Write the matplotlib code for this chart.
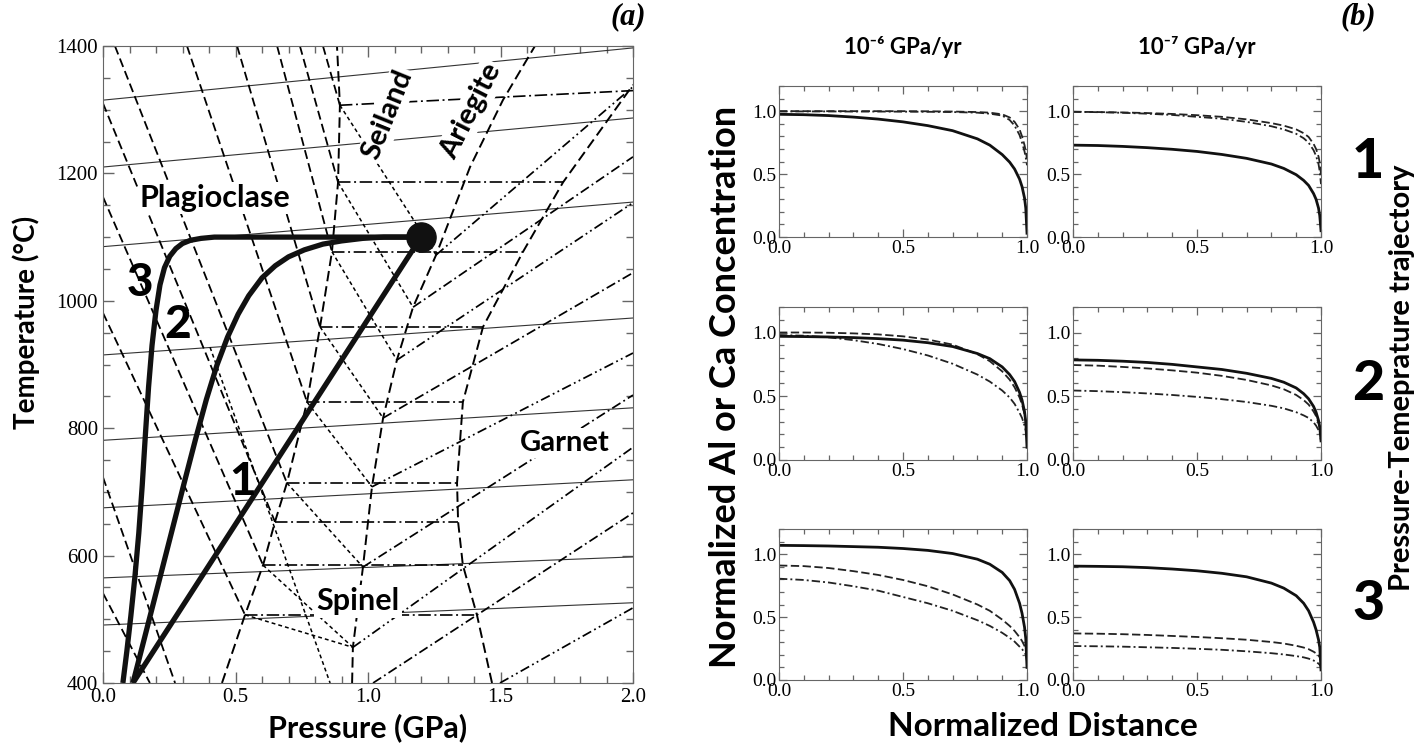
import matplotlib
matplotlib.use('Agg')
import matplotlib.pyplot as plt
from matplotlib.ticker import MultipleLocator, FormatStrFormatter

plt.rcParams['lines.scale_dashes'] = False
SANS = ['Lato', 'DejaVu Sans']
SERIF = 'Liberation Serif'

# ---------------- panel (a): P-T grid ----------------
# thin solid lines, T at P=0 and at P=2
solid_T0 = [1315, 1210, 1085, 915, 781, 675, 565, 491]
solid_T1 = [1397, 1287, 1155, 973, 832, 719, 598, 526]

# field boundaries
b1_P = [0.449, 0.536, 0.604, 0.649, 0.694, 0.770, 0.819, 0.864, 0.887, 0.894, 0.883]
b1_T = [400, 507, 585, 653, 714, 841, 959, 1077, 1186, 1307, 1400]
b2_P = [1.468, 1.411, 1.358, 1.340, 1.336, 1.358, 1.434, 1.585, 1.736, 2.0]
b2_T = [400, 507, 585, 653, 714, 841, 959, 1077, 1186, 1339]
mid_P = [0.940, 0.943, 0.981, 1.015, 1.057, 1.109, 1.170, 1.257, 1.385, 1.509, 1.630]
mid_T = [400, 456, 582, 708, 816, 907, 990, 1072, 1210, 1315, 1400]

# horizontal dash-dot lines across the spinel field
ca_P0 = [0.894, 0.887, 0.864, 0.819, 0.770, 0.694, 0.649, 0.604, 0.536]
ca_T0 = [1307, 1186, 1077, 959, 841, 714, 653, 585, 507]
ca_P1 = [2.0, 1.736, 1.585, 1.434, 1.358, 1.336, 1.340, 1.358, 1.411]
ca_T1 = [1330, 1186, 1077, 959, 841, 714, 653, 585, 507]

# plagioclase field lines
plag_P0 = [0.830, 0.743, 0.657, 0.506, 0.317, 0.045, 0.0, 0.0, 0.0, 0.0, 0.0]
plag_T0 = [1400, 1400, 1400, 1400, 1400, 1400, 1310, 1163, 981, 723, 541]
plag_P1 = [0.894, 0.887, 0.864, 0.819, 0.770, 0.694, 0.649, 0.604, 0.536, 0.272, 0.177]
plag_T1 = [1307, 1186, 1077, 959, 841, 714, 653, 585, 507, 400, 400]

# short-dash lines in the Seiland part of the spinel field
sei_P0 = [0.894, 0.887, 0.864, 0.819, 0.770, 0.694, 0.604, 0.536, 0.404]
sei_T0 = [1307, 1186, 1077, 959, 841, 714, 585, 507, 927]
sei_P1 = [1.257, 1.170, 1.109, 1.057, 1.015, 0.981, 0.943, 0.943, 0.857]
sei_T1 = [1072, 990, 907, 816, 708, 582, 456, 456, 400]

# rising lines (Ariegite / garnet), ending at P=2
gar_P0 = [1.257, 1.170, 1.109, 1.057, 1.015, 0.981, 0.943, 1.019, 1.498]
gar_T0 = [1072, 990, 907, 816, 708, 582, 456, 400, 400]
gar_T1 = [1336, 1226, 1154, 1044, 918, 852, 770, 667, 518]

# P-T trajectories
traj1_P = [0.113, 1.2]
traj1_T = [400, 1100]
traj2_P = [0.113, 0.15, 0.19, 0.23, 0.27, 0.31, 0.35, 0.39, 0.43, 0.47, 0.51, 0.55,
           0.60, 0.65, 0.70, 0.76, 0.83, 0.90, 0.98, 1.06, 1.2]
traj2_T = [400, 460, 525, 590, 655, 720, 784, 845, 899, 943, 979, 1008,
           1036, 1055, 1069, 1080, 1089, 1094, 1098, 1100, 1100]
traj3_P = [0.075, 0.09, 0.105, 0.12, 0.135, 0.148, 0.160, 0.172, 0.185, 0.200,
           0.215, 0.232, 0.252, 0.275, 0.30, 0.33, 0.37, 0.42, 1.2]
traj3_T = [400, 450, 505, 565, 635, 710, 790, 865, 930, 985,
           1025, 1052, 1070, 1082, 1090, 1095, 1098, 1100, 1100]

# ---------------- panel (b): concentration profiles ----------------
dist = [0, 0.1, 0.2, 0.3, 0.4, 0.5, 0.6, 0.7, 0.8, 0.85, 0.9, 0.93, 0.95, 0.97, 0.98, 0.99, 0.995, 1.0]

fast1_solid = [0.975, 0.972, 0.965, 0.953, 0.937, 0.915, 0.885, 0.845, 0.78, 0.73, 0.655, 0.595, 0.54, 0.46, 0.40, 0.31, 0.23, 0.03]
fast1_dash = [1.0, 1.0, 1.0, 1.0, 1.0, 1.0, 0.999, 0.997, 0.993, 0.988, 0.975, 0.95, 0.915, 0.855, 0.80, 0.73, 0.68, 0.62]
fast1_dot = [0.998, 0.998, 0.998, 0.997, 0.997, 0.996, 0.995, 0.993, 0.988, 0.98, 0.965, 0.93, 0.885, 0.81, 0.75, 0.68, 0.63, 0.57]
slow1_solid = [0.73, 0.727, 0.72, 0.71, 0.697, 0.68, 0.656, 0.625, 0.58, 0.545, 0.495, 0.45, 0.41, 0.345, 0.30, 0.23, 0.17, 0.05]
slow1_dash = [0.995, 0.993, 0.99, 0.985, 0.978, 0.968, 0.955, 0.935, 0.905, 0.885, 0.855, 0.825, 0.795, 0.74, 0.70, 0.64, 0.59, 0.50]
slow1_dot = [0.995, 0.992, 0.987, 0.98, 0.97, 0.955, 0.94, 0.915, 0.88, 0.855, 0.82, 0.785, 0.75, 0.69, 0.645, 0.58, 0.52, 0.42]

fast2_solid = [0.97, 0.968, 0.965, 0.96, 0.952, 0.94, 0.92, 0.89, 0.835, 0.795, 0.73, 0.67, 0.615, 0.53, 0.47, 0.38, 0.30, 0.10]
fast2_dash = [1.0, 1.0, 0.998, 0.993, 0.985, 0.97, 0.945, 0.905, 0.83, 0.775, 0.695, 0.63, 0.57, 0.49, 0.435, 0.36, 0.30, 0.18]
fast2_dot = [0.98, 0.975, 0.962, 0.94, 0.91, 0.87, 0.82, 0.755, 0.67, 0.615, 0.545, 0.49, 0.44, 0.37, 0.33, 0.27, 0.23, 0.15]
slow2_solid = [0.785, 0.782, 0.775, 0.765, 0.75, 0.73, 0.71, 0.68, 0.64, 0.61, 0.565, 0.52, 0.48, 0.42, 0.375, 0.31, 0.26, 0.15]
slow2_dash = [0.745, 0.74, 0.73, 0.718, 0.703, 0.685, 0.66, 0.628, 0.585, 0.555, 0.51, 0.47, 0.435, 0.38, 0.345, 0.29, 0.25, 0.17]
slow2_dot = [0.545, 0.54, 0.532, 0.522, 0.51, 0.495, 0.477, 0.455, 0.425, 0.405, 0.375, 0.35, 0.33, 0.295, 0.27, 0.235, 0.21, 0.15]

fast3_solid = [1.07, 1.068, 1.065, 1.06, 1.055, 1.045, 1.03, 1.005, 0.96, 0.92, 0.855, 0.79, 0.72, 0.61, 0.53, 0.42, 0.33, 0.10]
fast3_dash = [0.91, 0.905, 0.89, 0.865, 0.835, 0.795, 0.745, 0.68, 0.60, 0.55, 0.48, 0.43, 0.39, 0.34, 0.31, 0.27, 0.24, 0.20]
fast3_dot = [0.805, 0.795, 0.775, 0.745, 0.71, 0.66, 0.61, 0.55, 0.475, 0.43, 0.375, 0.335, 0.305, 0.265, 0.245, 0.22, 0.20, 0.15]
slow3_solid = [0.905, 0.903, 0.90, 0.893, 0.882, 0.868, 0.848, 0.82, 0.77, 0.73, 0.67, 0.61, 0.55, 0.46, 0.40, 0.32, 0.26, 0.08]
slow3_dash = [0.37, 0.368, 0.364, 0.358, 0.35, 0.342, 0.332, 0.32, 0.302, 0.29, 0.272, 0.258, 0.245, 0.225, 0.212, 0.195, 0.18, 0.15]
slow3_dot = [0.27, 0.268, 0.265, 0.26, 0.255, 0.248, 0.24, 0.228, 0.213, 0.203, 0.19, 0.18, 0.17, 0.155, 0.145, 0.13, 0.12, 0.10]

rate_titles = ['10\u207b\u2076 GPa/yr', '10\u207b\u2077 GPa/yr']
traj_names = ['1', '2', '3']

W, H = 1424, 750
fig = plt.figure(figsize=(W / 100, H / 100), dpi=100)


def box(x0, y0, x1, y1):
    return [x0 / W, 1 - y1 / H, (x1 - x0) / W, (y1 - y0) / H]


SPINE = '#666666'

# ---- panel (a)
ax = fig.add_axes(box(103, 46, 633, 683))
ax.set_xlim(0, 2)
ax.set_ylim(400, 1400)

for t0, t1 in zip(solid_T0, solid_T1):
    ax.plot([0, 2], [t0, t1], color='#333333', lw=0.8)

for p0, t0, p1, t1 in zip(plag_P0, plag_T0, plag_P1, plag_T1):
    ax.plot([p0, p1], [t0, t1], color='k', lw=1.3, dashes=(6.5, 3.2))

for p0, t0, p1, t1 in zip(sei_P0, sei_T0, sei_P1, sei_T1):
    ax.plot([p0, p1], [t0, t1], color='k', lw=1.1, dashes=(2.8, 2.2))

for p0, t0, p1, t1 in zip(ca_P0, ca_T0, ca_P1, ca_T1):
    ax.plot([p0, p1], [t0, t1], color='k', lw=1.2, dashes=(9, 2.6, 1.4, 2.6))

for i, (p0, t0, t1) in enumerate(zip(gar_P0, gar_T0, gar_T1)):
    if i % 2 == 0:
        style = (7, 2.5, 1.3, 2.5, 1.3, 2.5)
    else:
        style = (7, 2.5, 1.3, 2.5)
    ax.plot([p0, 2.0], [t0, t1], color='k', lw=1.25, dashes=style)

for bp, bt in [(b1_P, b1_T), (b2_P, b2_T), (mid_P, mid_T)]:
    ax.plot(bp, bt, color='k', lw=1.4, dashes=(7.5, 3.6))

for tp, tt in [(traj1_P, traj1_T), (traj2_P, traj2_T), (traj3_P, traj3_T)]:
    ax.plot(tp, tt, color='#111111', lw=3.8, solid_capstyle='butt', solid_joinstyle='round')
ax.plot([1.2], [1100], 'o', color='#111111', ms=21)

bbox = dict(facecolor='white', edgecolor='none', pad=1.5)
ax.text(0.423, 1161, 'Plagioclase', family=SANS, weight='bold', fontsize=22,
        ha='center', va='center', bbox=bbox)
ax.text(0.962, 528, 'Spinel', family=SANS, weight='bold', fontsize=22,
        ha='center', va='center', bbox=bbox)
ax.text(1.743, 777, 'Garnet', family=SANS, weight='bold', fontsize=21,
        ha='center', va='center', bbox=bbox)
ax.text(1.075, 1292, 'Seiland', family=SANS, weight='bold', fontsize=21,
        ha='center', va='center', rotation=68, bbox=bbox)
ax.text(1.39, 1298, 'Ariegite', family=SANS, weight='bold', fontsize=21,
        ha='center', va='center', rotation=63, bbox=bbox)
for lab, p, t in zip(traj_names, [0.528, 0.283, 0.14], [716, 962, 1028]):
    ax.text(p, t, lab, family=SANS, weight='black', fontsize=33,
            ha='center', va='center')

ax.xaxis.set_major_locator(MultipleLocator(0.5))
ax.xaxis.set_minor_locator(MultipleLocator(0.1))
ax.yaxis.set_major_locator(MultipleLocator(200))
ax.yaxis.set_minor_locator(MultipleLocator(50))
ax.xaxis.set_major_formatter(FormatStrFormatter('%.1f'))
ax.tick_params(which='both', direction='in', top=True, right=True, color=SPINE)
ax.tick_params(which='major', length=8, width=1, labelsize=15)
ax.tick_params(which='minor', length=5, width=1)
for lbl in ax.get_xticklabels() + ax.get_yticklabels():
    lbl.set_family(SERIF)
for s in ax.spines.values():
    s.set_color(SPINE)

fig.text(368 / W, 1 - 728 / H, 'Pressure (GPa)', family=SANS, weight='bold',
         fontsize=22, ha='center', va='center')
fig.text(26 / W, 1 - 322 / H, 'Temperature (\u00b0C)', family=SANS, weight='bold',
         fontsize=20, rotation=90, ha='center', va='center')

fig.text(628 / W, 1 - 17 / H, '(a)', family=SERIF, style='italic', weight='bold',
         fontsize=22, ha='center', va='center')
fig.text(1358 / W, 1 - 17 / H, '(b)', family=SERIF, style='italic', weight='bold',
         fontsize=22, ha='center', va='center')

# ---- panel (b)
profiles = [
    [(fast1_solid, fast1_dash, fast1_dot), (slow1_solid, slow1_dash, slow1_dot)],
    [(fast2_solid, fast2_dash, fast2_dot), (slow2_solid, slow2_dash, slow2_dot)],
    [(fast3_solid, fast3_dash, fast3_dot), (slow3_solid, slow3_dash, slow3_dot)],
]
col_x = [(779, 1027), (1073, 1321)]
row_y = [(86, 237), (307, 460), (529, 680)]

for r, (y0, y1) in enumerate(row_y):
    for c, (x0, x1) in enumerate(col_x):
        a = fig.add_axes(box(x0, y0, x1, y1))
        sol, dsh, dd = profiles[r][c]
        a.plot(dist, dsh, color='#222222', lw=1.3, dashes=(6, 2.5))
        a.plot(dist, dd, color='#222222', lw=1.3, dashes=(6, 2.2, 1.4, 2.2))
        a.plot(dist, sol, color='#111111', lw=2.0)
        a.set_xlim(0, 1)
        a.set_ylim(0, 1.2)
        a.xaxis.set_major_locator(MultipleLocator(0.5))
        a.xaxis.set_minor_locator(MultipleLocator(0.1))
        a.yaxis.set_major_locator(MultipleLocator(0.5))
        a.yaxis.set_minor_locator(MultipleLocator(0.1))
        a.xaxis.set_major_formatter(FormatStrFormatter('%.1f'))
        a.yaxis.set_major_formatter(FormatStrFormatter('%.1f'))
        a.tick_params(which='both', direction='in', top=True, right=True, color=SPINE)
        a.tick_params(which='major', length=6, width=0.9, labelsize=14, pad=2)
        a.tick_params(which='minor', length=3.5, width=0.9)
        for lbl in a.get_xticklabels() + a.get_yticklabels():
            lbl.set_family(SERIF)
        for s in a.spines.values():
            s.set_color(SPINE)

for c, (x0, x1) in enumerate(col_x):
    fig.text((x0 + x1) / 2 / W, 1 - 47 / H, rate_titles[c], family=SANS, weight='bold',
             fontsize=16, ha='center', va='center')
for r, (y0, y1) in enumerate(row_y):
    fig.text(1368 / W, 1 - ((y0 + y1) / 2) / H, traj_names[r], family=SANS, weight='black',
             fontsize=40, ha='center', va='center')

fig.text(725 / W, 1 - 387 / H, 'Normalized Al or Ca Concentration', family=SANS,
         weight='bold', fontsize=26, rotation=90, ha='center', va='center')
fig.text(1043 / W, 1 - 727 / H, 'Normalized Distance', family=SANS, weight='bold',
         fontsize=24, ha='center', va='center')
fig.text(1402 / W, 1 - 378 / H, 'Pressure-Temeprature trajectory', family=SANS,
         weight='bold', fontsize=21, rotation=90, ha='center', va='center')

fig.savefig('out.png', dpi=100)
